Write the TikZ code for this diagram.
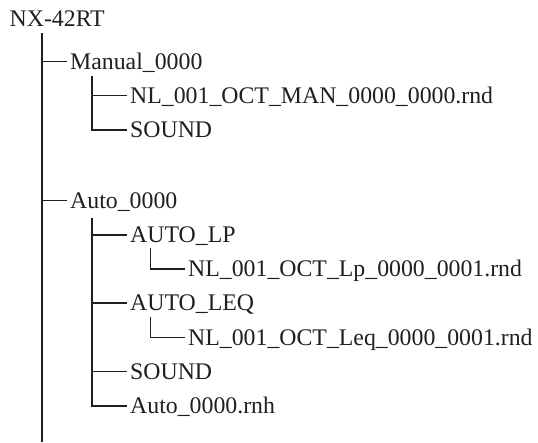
\documentclass[tikz,border=0pt]{standalone}
\usepackage{fontspec}
\setmainfont{Liberation Serif}
\begin{document}
\begin{tikzpicture}[x=1pt,y=-1pt,
  lbl/.style={anchor=west,inner xsep=3.5pt,inner ysep=0pt,text height=15.7pt,text depth=0pt,font=\fontsize{23.8}{28}\selectfont,text=black!88},
  branch/.style={line width=1.6pt,draw=black!88},
  trunk/.style={line width=2pt,draw=black!88}]
\useasboundingbox (0,0) rectangle (538,442);
\node[anchor=base west,inner sep=0pt,font=\fontsize{23.8}{28}\selectfont,text=black!88] (root) at (9.5,26) {NX-42RT};
\coordinate (trunkTop) at (42,33);
\coordinate (trunkBot) at (42,442);
\node[lbl] (man) at (66.5,61.3) {Manual\_0000};
\node[lbl] (mnl) at (126.5,95.5) {NL\_001\_OCT\_MAN\_0000\_0000.rnd};
\node[lbl] (msnd) at (126.5,129.7) {SOUND};
\node[lbl] (auto) at (66.5,200.5) {Auto\_0000};
\node[lbl] (alp) at (126.5,234.7) {AUTO\_LP};
\node[lbl] (lpnl) at (184.5,268.9) {NL\_001\_OCT\_Lp\_0000\_0001.rnd};
\node[lbl] (aleq) at (126.5,303.1) {AUTO\_LEQ};
\node[lbl] (leqnl) at (184.5,337.3) {NL\_001\_OCT\_Leq\_0000\_0001.rnd};
\node[lbl] (asnd) at (126.5,371.5) {SOUND};
\node[lbl] (arnh) at (126.5,405.7) {Auto\_0000.rnh};
\coordinate (mtop) at (92,76);
\coordinate (atop) at (92,218);
\coordinate (lptop) at (150.5,248);
\coordinate (leqtop) at (150.5,317);
\draw[trunk] (trunkTop) -- (trunkBot);
\draw[branch] (trunkTop |- man.west) -- (man.west);
\draw[branch] (trunkTop |- auto.west) -- (auto.west);
\draw[branch] (mtop) |- (msnd.west);
\draw[branch] (mtop |- mnl.west) -- (mnl.west);
\draw[branch] (atop) |- (arnh.west);
\draw[branch] (atop |- alp.west) -- (alp.west);
\draw[branch] (atop |- aleq.west) -- (aleq.west);
\draw[branch] (atop |- asnd.west) -- (asnd.west);
\draw[branch] (lptop) |- (lpnl.west);
\draw[branch] (leqtop) |- (leqnl.west);
\end{tikzpicture}
\end{document}
